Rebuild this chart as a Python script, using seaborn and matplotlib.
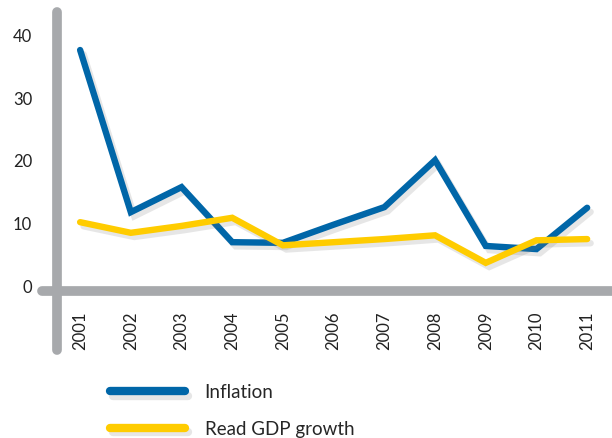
import pandas as pd
import matplotlib
matplotlib.use('Agg')
import matplotlib.pyplot as plt
import matplotlib.patheffects as pe
import seaborn as sns

# Data
years = [2001, 2002, 2003, 2004, 2005, 2006, 2007, 2008, 2009, 2010, 2011]
inflation = [37.7, 11.8, 15.8, 7.0, 6.9, 9.8, 12.6, 20.1, 6.4, 5.9, 12.5]
gdp_growth = [10.2, 8.5, 9.6, 10.9, 6.5, 7.0, 7.5, 8.1, 3.7, 7.3, 7.5]
series_names = ['Inflation', 'Read GDP growth']
y_ticks = [0, 10, 20, 30, 40]

colors = {'Inflation': '#0066a8', 'Read GDP growth': '#ffcc00'}
axis_grey = '#a7a9ac'

df = pd.DataFrame({
    'year': years * 2,
    'value': inflation + gdp_growth,
    'series': [series_names[0]] * len(years) + [series_names[1]] * len(years),
})

sns.set_style('white')
plt.rcParams['font.family'] = ['Lato', 'DejaVu Sans']

fig = plt.figure(figsize=(6.12, 4.38), dpi=100)
ax = fig.add_axes([0, 0, 1, 1])

sns.lineplot(data=df, x='year', y='value', hue='series', palette=colors,
             linewidth=4.6, ax=ax, legend=False)

shadow = [pe.SimpleLineShadow(offset=(2.5, -3), shadow_color='#777777', alpha=0.18),
          pe.Normal()]
for line in ax.get_lines():
    line.set_path_effects(shadow)
    line.set_solid_capstyle('round')
    line.set_solid_joinstyle('miter')

# axis limits chosen so the plot sits where it does in the reference
ax.set_xlim(1999.42, 2011.49)
ax.set_ylim(-24.28, 45.69)

for s in ['top', 'right']:
    ax.spines[s].set_visible(False)
ax.spines['left'].set_position(('data', 2000.55))
ax.spines['left'].set_bounds(-10.3, 43.8)
ax.spines['bottom'].set_position(('data', -0.8))
ax.spines['bottom'].set_bounds(2000.25, 2012)
for s in ['left', 'bottom']:
    ax.spines[s].set_color(axis_grey)
    ax.spines[s].set_linewidth(7)
    ax.spines[s].set_capstyle('round')
    ax.spines[s].set_zorder(0)

ax.set_yticks(y_ticks)
ax.set_xticks(years)
ax.set_xticklabels([str(y) for y in years], rotation=90)
ax.tick_params(axis='y', length=0, pad=18, labelsize=12, colors='#222222')
ax.tick_params(axis='x', length=0, pad=15, labelsize=12, colors='#222222')
ax.set_xlabel('')
ax.set_ylabel('')

handles = [plt.Line2D([], [], color=colors[n], linewidth=6, solid_capstyle='round',
                      path_effects=shadow) for n in series_names]
ax.legend(handles, series_names, loc='upper left',
          bbox_to_anchor=(110 / 612, 1 - 384 / 438), frameon=False,
          borderpad=0, borderaxespad=0, handlelength=4.0, handletextpad=1.05,
          labelspacing=1.05, fontsize=13.5)

fig.savefig('out.png', dpi=100)
